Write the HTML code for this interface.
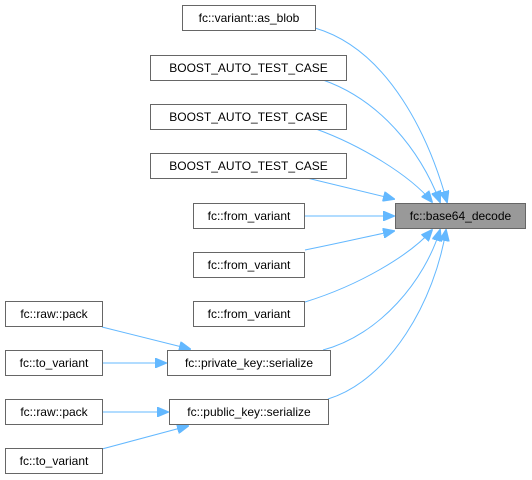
<!DOCTYPE html>
<html><head><style>
body{margin:0;background:#fff;}
.n{position:absolute;box-sizing:border-box;border:1px solid #666;background:#fff;font:12px "Liberation Sans",sans-serif;color:#000;text-align:center;line-height:24px;height:26px;}
</style></head><body>
<div style="position:relative;width:532px;height:480px;overflow:hidden">
<svg width="532" height="480" style="position:absolute;left:0;top:0">
<defs><marker id="a" markerWidth="12" markerHeight="10" refX="11" refY="5" orient="auto" markerUnits="userSpaceOnUse"><path d="M0,0 L12,5 L0,10 z" fill="#63b8ff" stroke="#63b8ff"/></marker></defs>
<g fill="none" stroke="#63b8ff" stroke-width="1" marker-end="url(#a)">
<path d="M315,28 C390,50 430,140 447,202"/>
<path d="M323,80 C380,100 420,150 440,202"/>
<path d="M316,129 C360,145 410,175 432,202"/>
<path d="M307,178 C340,186 370,193 394,199"/>
<path d="M305,216 L394,216"/>
<path d="M305,250 C340,243 370,236 394,231"/>
<path d="M305,302 C360,285 410,255 432,230"/>
<path d="M323,350 C380,335 425,280 440,230"/>
<path d="M328,399 C390,380 435,300 446,230"/>
<path d="M102,327 L190,349"/>
<path d="M102,363 L166,363"/>
<path d="M102,412 L168,412"/>
<path d="M102,449 L188,426"/>
</g>
</svg>
<div class="n" style="left:182px;top:5px;width:134px">fc::variant::as_blob</div>
<div class="n" style="left:150px;top:55px;width:197px">BOOST_AUTO_TEST_CASE</div>
<div class="n" style="left:150px;top:104px;width:197px">BOOST_AUTO_TEST_CASE</div>
<div class="n" style="left:150px;top:153px;width:197px">BOOST_AUTO_TEST_CASE</div>
<div class="n" style="left:193px;top:203px;width:112px">fc::from_variant</div>
<div class="n" style="left:193px;top:252px;width:112px">fc::from_variant</div>
<div class="n" style="left:193px;top:301px;width:112px">fc::from_variant</div>
<div class="n" style="left:395px;top:203px;width:131px;background:#999">fc::base64_decode</div>
<div class="n" style="left:5px;top:301px;width:98px">fc::raw::pack</div>
<div class="n" style="left:5px;top:350px;width:98px">fc::to_variant</div>
<div class="n" style="left:167px;top:350px;width:164px">fc::private_key::serialize</div>
<div class="n" style="left:5px;top:399px;width:98px">fc::raw::pack</div>
<div class="n" style="left:169px;top:399px;width:160px">fc::public_key::serialize</div>
<div class="n" style="left:5px;top:448px;width:98px">fc::to_variant</div>
</div>
</body></html>
